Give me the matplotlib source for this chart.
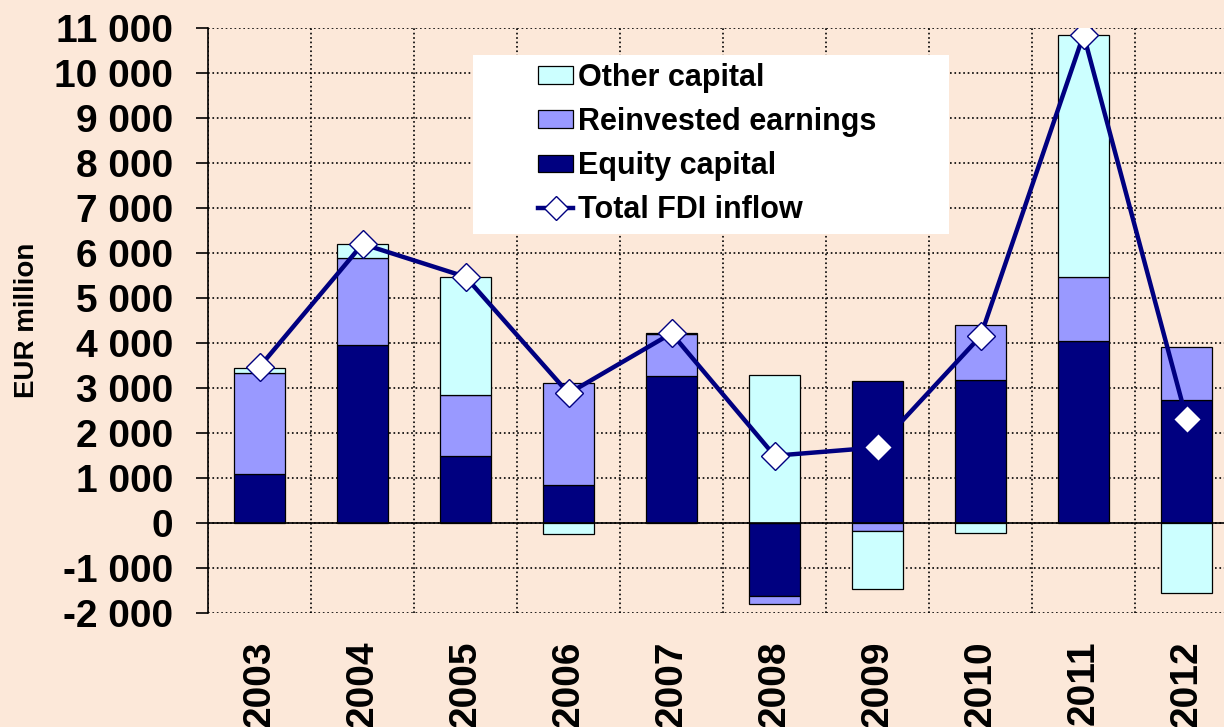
import numpy as np
from matplotlib import pyplot as plt
from matplotlib.lines import Line2D
from matplotlib.patches import Patch, Rectangle
from matplotlib.ticker import FuncFormatter, MultipleLocator

years = ['2003', '2004', '2005', '2006', '2007', '2008', '2009', '2010', '2011', '2012']
equity = [1090, 3960, 1480, 845, 3270, -1615, 3160, 3170, 4040, 2730]
reinvested = [2240, 1920, 1370, 2260, 930, -185, -170, 1230, 1430, 1190]
other = [120, 320, 2620, -245, 20, 3280, -1295, -230, 5370, -1565]
total = [3470, 6200, 5470, 2880, 4215, 1495, 1680, 4150, 10850, 2310]

bg = '#FCE8D9'
navy = '#000080'
c_equity = '#000080'
c_reinv = '#9999FF'
c_other = '#CCFFFF'

plt.rcParams['font.family'] = ['Liberation Sans', 'DejaVu Sans']
plt.rcParams['font.weight'] = 'bold'

fig = plt.figure(figsize=(12.24, 7.27), dpi=100, facecolor=bg)
ax = fig.add_axes([0.170, 0.1568, 0.8415, 0.8047])
ax.set_facecolor(bg)

x = np.arange(len(years))
pos_base = np.zeros(len(years))
neg_base = np.zeros(len(years))
for vals, col in [(equity, c_equity), (reinvested, c_reinv), (other, c_other)]:
    vals = np.array(vals, dtype=float)
    bottoms = np.where(vals >= 0, pos_base, neg_base)
    ax.bar(x, vals, width=0.5, bottom=bottoms, color=col, edgecolor='black', linewidth=0.9, zorder=2)
    pos_base += np.where(vals >= 0, vals, 0)
    neg_base += np.where(vals < 0, vals, 0)

ax.axhline(0, color='black', linewidth=1.2, zorder=3)
ax.plot(x, total, color=navy, linewidth=3.2, marker='D', markersize=14,
        markerfacecolor='white', markeredgecolor=navy, markeredgewidth=1, zorder=4)

ax.set_xlim(-0.5, 9.5)
ax.set_ylim(-2000, 11000)
ax.yaxis.set_major_locator(MultipleLocator(1000))
ax.yaxis.set_major_formatter(FuncFormatter(lambda v, p: '{:,.0f}'.format(v).replace(',', ' ')))
ax.set_xticks(x)
ax.set_xticklabels(years, rotation=90, va='top')
ax.set_xticks(np.arange(len(years) + 1) - 0.5, minor=True)
ax.tick_params(axis='x', which='both', length=0, labelsize=28, pad=20)
ax.tick_params(axis='y', length=9, width=1.2, labelsize=28, pad=16)

ax.set_axisbelow(True)
ax.grid(axis='y', which='major', color='black', linestyle=':', linewidth=1.2)
ax.grid(axis='x', which='minor', color='black', linestyle=':', linewidth=1.2)
for s in ['top', 'right', 'bottom']:
    ax.spines[s].set_visible(False)
ax.spines['left'].set_linewidth(1.2)

fig.text(27 / 1224, 0.56, 'EUR million', rotation=90, ha='center', va='center', fontsize=20)

# white legend box
fig.patches.append(Rectangle((473 / 1224, 1 - 234 / 727), 476 / 1224, 179 / 727,
                             transform=fig.transFigure, facecolor='white', edgecolor='none', zorder=1))
handles = [Patch(facecolor=c_other, edgecolor='black', linewidth=0.9),
           Patch(facecolor=c_reinv, edgecolor='black', linewidth=0.9),
           Patch(facecolor=c_equity, edgecolor='black', linewidth=0.9),
           Line2D([], [], color=navy, linewidth=3.2, marker='D', markersize=12,
                  markerfacecolor='white', markeredgecolor=navy, markeredgewidth=1)]
labels = ['Other capital', 'Reinvested earnings', 'Equity capital', 'Total FDI inflow']
leg = fig.legend(handles, labels, loc='upper left', bbox_to_anchor=(538 / 1224, 1 - 63 / 727),
                 frameon=False, fontsize=22, handlelength=1.15, handleheight=0.5,
                 handletextpad=0.15, labelspacing=0.46, borderpad=0, borderaxespad=0)
leg.set_zorder(2)

plt.savefig('out.png', dpi=100, facecolor=bg)
